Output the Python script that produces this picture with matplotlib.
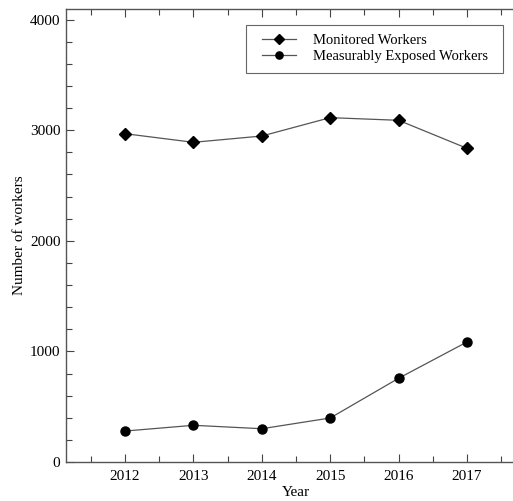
import matplotlib.pyplot as plt
from matplotlib.patches import Rectangle
from matplotlib.ticker import MultipleLocator

plt.rcParams['font.family'] = ['Liberation Serif', 'DejaVu Serif']

years = [2012, 2013, 2014, 2015, 2016, 2017]
monitored = [2968, 2890, 2947, 3113, 3089, 2836]
exposed = [280, 332, 301, 398, 757, 1085]

W, H = 513, 501
fig = plt.figure(figsize=(W / 100, H / 100), dpi=100)
ax = fig.add_axes([0.1287, 0.0778, 0.8966, 0.9042])

ax.plot(years, monitored, color='#555555', lw=0.9, marker='D', ms=6.5,
        mfc='black', mec='black', label='Monitored Workers')
ax.plot(years, exposed, color='#555555', lw=0.9, marker='o', ms=6.5,
        mfc='black', mec='black', label='Measurably Exposed Workers')

ax.set_xlim(2011.137, 2017.863)
ax.set_ylim(0, 4095)
ax.set_xticks(years)
ax.set_yticks([0, 1000, 2000, 3000, 4000])
ax.xaxis.set_minor_locator(MultipleLocator(0.5))
ax.yaxis.set_minor_locator(MultipleLocator(200))
ax.tick_params(which='both', direction='in', top=True, right=True,
               labelsize=11, color='#444444')
ax.tick_params(which='major', length=6, width=0.8)
ax.tick_params(which='minor', length=4, width=0.8)
ax.tick_params(axis='x', which='major', pad=6)
ax.tick_params(axis='y', which='major', pad=4)
for s in ax.spines.values():
    s.set_color('#555555')
    s.set_linewidth(1.0)

ax.set_xlabel('Year', fontsize=11, labelpad=2)
ax.set_ylabel('Number of workers', fontsize=11, labelpad=3)

# legend without its own frame; box drawn separately so it can be wider
leg = ax.legend(loc='upper left', bbox_to_anchor=(262 / W, 1 - 34 / H),
                bbox_transform=fig.transFigure, fontsize=10.5, frameon=False,
                handlelength=2.3, borderpad=0, labelspacing=0.15,
                handletextpad=1.2, borderaxespad=0, markerscale=0.8)
fig.patches.append(Rectangle((246 / W, 1 - 73 / H), 257 / W, 48 / H,
                             transform=fig.transFigure, fill=False,
                             edgecolor='#666666', lw=0.8))

fig.savefig('out.png', dpi=100)
